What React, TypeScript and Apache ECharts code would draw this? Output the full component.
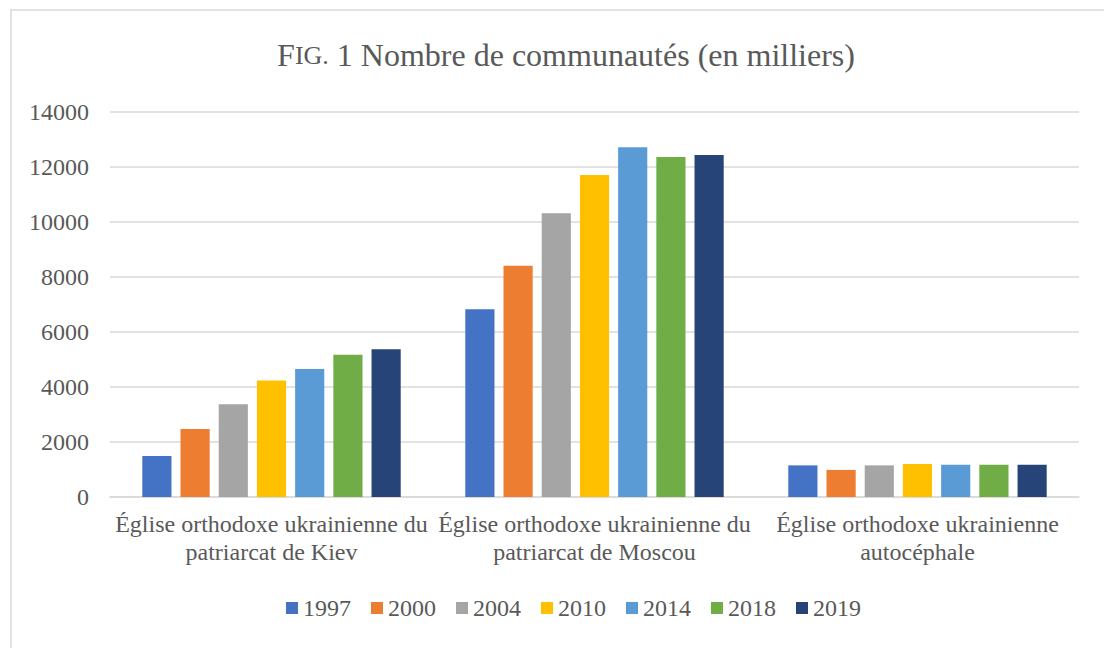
import React, { useEffect, useRef } from "react";
import * as echarts from "echarts";

const categories = [
  "Église orthodoxe ukrainienne du\npatriarcat de Kiev",
  "Église orthodoxe ukrainienne du\npatriarcat de Moscou",
  "Église orthodoxe ukrainienne\nautocéphale",
];
const years = ["1997", "2000", "2004", "2010", "2014", "2018", "2019"];
const colors = ["#4472C4", "#ED7D31", "#A5A5A5", "#FFC000", "#5B9BD5", "#70AD47", "#264478"];
const v1997 = [1490, 6825, 1150];
const v2000 = [2475, 8410, 985];
const v2004 = [3370, 10315, 1150];
const v2010 = [4240, 11710, 1200];
const v2014 = [4655, 12715, 1175];
const v2018 = [5175, 12365, 1175];
const v2019 = [5370, 12435, 1175];
const seriesValues = [v1997, v2000, v2004, v2010, v2014, v2018, v2019];
const yTicks = { min: 0, max: 14000, interval: 2000 };

const FONT = "Liberation Serif";
const TXT = "#595959";

export default function App() {
  const ref = useRef<HTMLDivElement>(null);
  useEffect(() => {
    if (!ref.current) return;
    const chart = echarts.init(ref.current, undefined, { renderer: "svg" });
    chart.setOption({
      animation: false,
      backgroundColor: "#ffffff",
      textStyle: { fontFamily: FONT, color: TXT },
      title: {
        text: "{a|F}{b|IG.}{a| 1 Nombre de communautés (en milliers)}",
        left: 561,
        textAlign: "center",
        top: 34,
        textStyle: {
          fontWeight: "normal",
          rich: {
            a: { fontFamily: FONT, fontSize: 32, fontWeight: "normal", color: TXT },
            b: { fontFamily: FONT, fontSize: 26, fontWeight: "normal", color: TXT },
          },
        },
      },
      graphic: [
        {
          type: "rect",
          shape: { x: 11, y: 10, width: 1200, height: 800 },
          style: { fill: "none", stroke: "#d9d9d9", lineWidth: 1.5 },
          silent: true,
          z: -1,
        },
      ],
      legend: {
        bottom: 23,
        left: 281,
        itemWidth: 12,
        itemHeight: 12,
        itemGap: 20,
        icon: "rect",
        textStyle: { fontFamily: FONT, fontSize: 24, color: TXT },
        data: years,
      },
      grid: { left: 110, right: 25, top: 112, bottom: 151, containLabel: false },
      xAxis: {
        type: "category",
        data: categories,
        axisLine: { lineStyle: { color: "#d9d9d9", width: 1.5 } },
        axisTick: { show: false },
        axisLabel: {
          interval: 0,
          margin: 13,
          fontFamily: FONT,
          fontSize: 24,
          lineHeight: 28,
          color: TXT,
          align: "center",
        },
      },
      yAxis: {
        type: "value",
        min: yTicks.min,
        max: yTicks.max,
        interval: yTicks.interval,
        axisLine: { show: false },
        axisTick: { show: false },
        splitLine: { lineStyle: { color: "#d9d9d9", width: 1.5 } },
        axisLabel: {
          margin: 21,
          fontFamily: FONT,
          fontSize: 24,
          color: TXT,
          formatter: (v: number) => String(v),
        },
      },
      series: years.map((y, i) => ({
        name: y,
        type: "bar",
        data: seriesValues[i],
        itemStyle: { color: colors[i] },
        barGap: "31%",
        barCategoryGap: "20%",
      })),
    });
    return () => chart.dispose();
  }, []);
  return (
    <div
      ref={ref}
      style={{ position: "fixed", left: 0, top: 0, width: 1104, height: 648 }}
    />
  );
}
